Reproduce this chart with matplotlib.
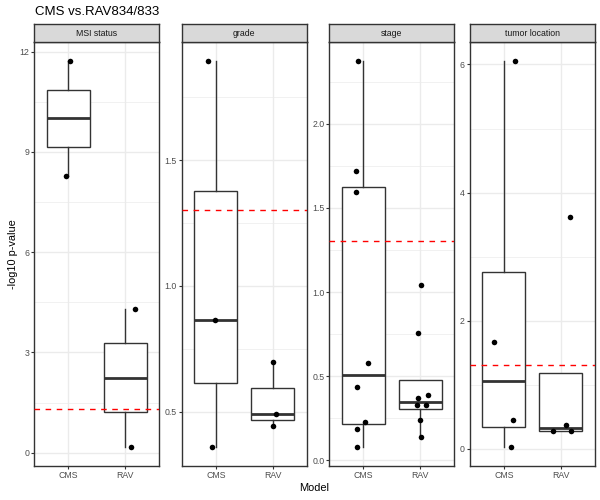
import matplotlib
matplotlib.use("Agg")
import matplotlib.pyplot as plt
import numpy as np

plt.rcParams['font.family'] = ['Liberation Sans', 'DejaVu Sans']

# ---------------- data ----------------
title = "CMS vs.RAV834/833"
facets = ["MSI status", "grade", "stage", "tumor location"]
models = ["CMS", "RAV"]
x_label = "Model"
y_label = "-log10 p-value"

msi_cms = [11.71, 8.29]
msi_rav = [4.31, 0.18]
grade_cms = [1.893, 0.865, 0.361]
grade_rav = [0.698, 0.491, 0.443]
stage_cms = [2.371, 1.718, 1.595, 0.579, 0.437, 0.225, 0.188, 0.081]
stage_rav = [1.040, 0.756, 0.386, 0.368, 0.326, 0.326, 0.241, 0.136]
loc_cms = [6.05, 1.663, 0.447, 0.031]
loc_rav = [3.62, 0.369, 0.28, 0.28]

# horizontal jitter of each point as seen in the picture (x units)
msi_cms_jit = [0.03, -0.05]
msi_rav_jit = [0.17, 0.10]
grade_cms_jit = [-0.13, -0.01, -0.07]
grade_rav_jit = [0.01, 0.06, 0.01]
stage_cms_jit = [-0.095, -0.135, -0.135, 0.087, -0.12, 0.02, -0.11, -0.11]
stage_rav_jit = [0.01, -0.04, 0.14, -0.04, -0.05, 0.11, 0.0, 0.02]
loc_cms_jit = [0.19, -0.17, 0.17, 0.13]
loc_rav_jit = [0.165, 0.10, -0.14, 0.19]

threshold = -np.log10(0.05)

msi_ticks = [0, 3, 6, 9, 12]
msi_labels = ["0", "3", "6", "9", "12"]
grade_ticks = [0.5, 1.0, 1.5]
grade_labels = ["0.5", "1.0", "1.5"]
stage_ticks = [0.0, 0.5, 1.0, 1.5, 2.0]
stage_labels = ["0.0", "0.5", "1.0", "1.5", "2.0"]
loc_ticks = [0, 2, 4, 6]
loc_labels = ["0", "2", "4", "6"]

panels = [
    (msi_cms, msi_rav, msi_cms_jit, msi_rav_jit, msi_ticks, msi_labels),
    (grade_cms, grade_rav, grade_cms_jit, grade_rav_jit, grade_ticks, grade_labels),
    (stage_cms, stage_rav, stage_cms_jit, stage_rav_jit, stage_ticks, stage_labels),
    (loc_cms, loc_rav, loc_cms_jit, loc_rav_jit, loc_ticks, loc_labels),
]

# ---------------- layout ----------------
W, H = 600, 500
fig = plt.figure(figsize=(W / 100, H / 100), dpi=100)
lefts = [34.3, 181.7, 329.3, 469.7]
pw = 125.0
top, bottom, strip_top = 42.0, 466.0, 24.0

dark = '#333333'
grid_c = '#EBEBEB'
tick_c = '#4D4D4D'

for i, (cms, rav, jc, jr, ticks, labels) in enumerate(panels):
    l = lefts[i]
    ax = fig.add_axes([l / W, 1 - bottom / H, pw / W, (bottom - top) / H])
    allv = np.array(cms + rav)
    lo, hi = allv.min(), allv.max()
    r = hi - lo
    ylo, yhi = lo - 0.05 * r, hi + 0.05 * r

    step = ticks[1] - ticks[0]
    minors = [t - step / 2 for t in ticks] + [ticks[-1] + step / 2]
    minors = [m for m in minors if ylo <= m <= yhi]
    for m in minors:
        ax.axhline(m, color=grid_c, lw=0.5, zorder=0)
    for t in ticks:
        ax.axhline(t, color=grid_c, lw=1.0, zorder=0)
    for xv in [1, 2]:
        ax.axvline(xv, color=grid_c, lw=1.0, zorder=0)

    ax.boxplot([cms, rav], positions=[1, 2], widths=0.75, patch_artist=True,
               showcaps=False, showfliers=False, whis=1.5,
               boxprops=dict(facecolor='white', edgecolor=dark, lw=1.0),
               whiskerprops=dict(color=dark, lw=1.0),
               medianprops=dict(color=dark, lw=2.0), zorder=2)
    ax.axhline(threshold, color='red', lw=1.0, linestyle=(0, (4, 4)), zorder=3)
    ax.scatter(1 + np.array(jc), cms, s=16, color='black', linewidths=0, zorder=4)
    ax.scatter(2 + np.array(jr), rav, s=16, color='black', linewidths=0, zorder=4)

    ax.set_xlim(0.4, 2.6)
    ax.set_ylim(ylo, yhi)
    ax.set_xticks([1, 2])
    ax.set_xticklabels(models)
    ax.set_yticks(ticks)
    ax.set_yticklabels(labels)
    ax.tick_params(axis='both', length=2.0, width=0.8, color=dark,
                   labelcolor=tick_c, labelsize=6.3, pad=1.6)
    for s in ax.spines.values():
        s.set_color(dark)
        s.set_linewidth(1.0)

    sax = fig.add_axes([l / W, 1 - top / H, pw / W, (top - strip_top) / H])
    sax.set_facecolor('#D9D9D9')
    sax.set_xticks([])
    sax.set_yticks([])
    for s in sax.spines.values():
        s.set_color(dark)
        s.set_linewidth(1.0)
    sax.text(0.5, 0.5, facets[i], ha='center', va='center', fontsize=6.3,
             color='#1A1A1A', transform=sax.transAxes)

fig.text(35 / W, 1 - 12 / H, title, ha='left', va='center', fontsize=9.5, color='black')
fig.text(13 / W, 1 - 254 / H, y_label, ha='center', va='center', rotation=90,
         fontsize=7.9, color='black')
fig.text(314.6 / W, 1 - 488 / H, x_label, ha='center', va='center', fontsize=7.9,
         color='black')

fig.savefig("out.png", dpi=100)
